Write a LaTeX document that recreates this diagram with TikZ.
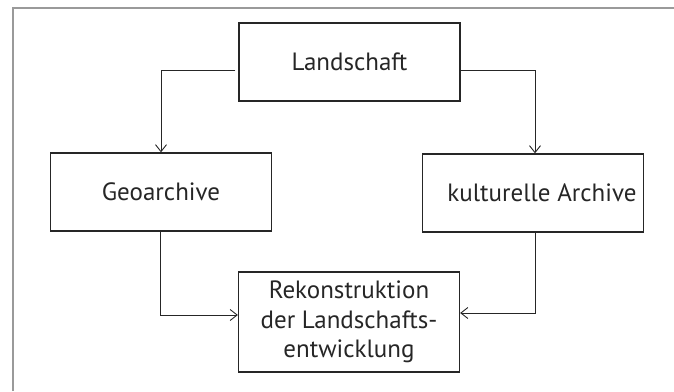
\documentclass[tikz,border=0pt]{standalone}
\usepackage{fontspec}
\setmainfont{PT Sans}
\usetikzlibrary{arrows.meta}

\definecolor{inkgray}{HTML}{262626}
\definecolor{framegray}{HTML}{9A9A9A}

\tikzset{
  box/.style={draw=inkgray, line width=1.3pt, text=inkgray, minimum width=221pt, minimum height=78pt, inner sep=0pt, align=center,
    font=\fontsize{25}{29.5}\selectfont},
  conn/.style={draw=inkgray, line width=0.9pt, -{Straight Barb[length=7pt,width=11pt,line width=0.9pt]}}
}

\begin{document}
\begin{tikzpicture}[x=1pt, y=-1pt]
\useasboundingbox (0,0) rectangle (674,391);
\draw [framegray, line width=2pt] (12.7,391) -- (12.7,8) -- (674,8);

\node (L) at (349.5,62) [box] {Landschaft};
\node (G) at (161,192) [box] {Geoarchive};
\node (K) at (533,193) [box] {\hspace*{18pt}kulturelle Archive};
\node (R) at (349,322) [box, minimum height=100pt] {Rekonstruktion\\der Landschafts-\\entwicklung};

\draw [conn] ([yshift=-8pt, xshift=-3pt]L.west) -| (G.north);
\draw [conn] ([yshift=-8pt]L.east) -| ([xshift=2pt]K.north);
\draw [conn] ([xshift=-1pt]G.south) |- ([yshift=7pt]R.west);
\draw [conn] ([xshift=2pt]K.south) |- ([yshift=9pt]R.east);
\end{tikzpicture}
\end{document}
